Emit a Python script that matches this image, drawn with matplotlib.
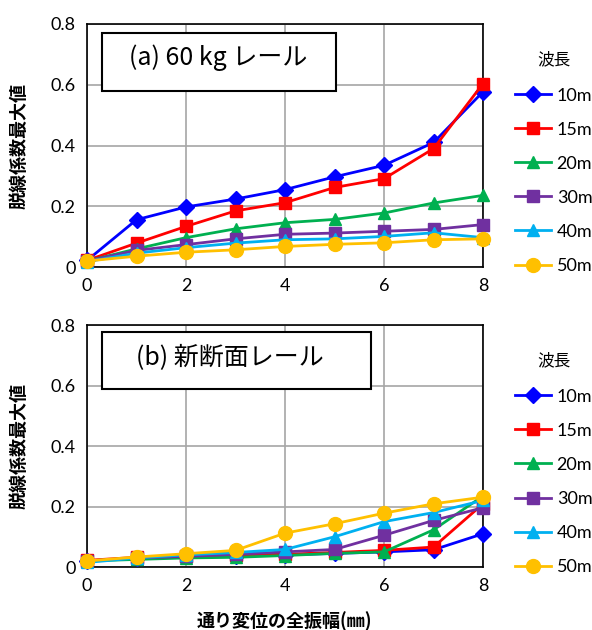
import numpy as np
import matplotlib.pyplot as plt
from matplotlib.patches import Rectangle

plt.rcParams['font.family'] = ['Lato', 'Noto Sans CJK JP', 'DejaVu Sans']
cjk = ['Noto Sans CJK JP', 'DejaVu Sans']

# Amplitude of alignment irregularity (mm)
x = [0, 1, 2, 3, 4, 5, 6, 7, 8]
wavelengths = ['10m', '15m', '20m', '30m', '40m', '50m']

# (a) 60 kg rail
rail60_10 = [0.022, 0.156, 0.198, 0.224, 0.255, 0.297, 0.335, 0.410, 0.577]
rail60_15 = [0.022, 0.079, 0.134, 0.185, 0.212, 0.262, 0.291, 0.390, 0.604]
rail60_20 = [0.020, 0.060, 0.097, 0.126, 0.146, 0.157, 0.178, 0.211, 0.236]
rail60_30 = [0.020, 0.055, 0.074, 0.093, 0.108, 0.112, 0.118, 0.124, 0.140]
rail60_40 = [0.018, 0.046, 0.064, 0.079, 0.090, 0.093, 0.101, 0.113, 0.097]
rail60_50 = [0.020, 0.036, 0.049, 0.057, 0.068, 0.075, 0.080, 0.090, 0.093]

# (b) new profile rail
new_10 = [0.020, 0.030, 0.035, 0.038, 0.040, 0.045, 0.050, 0.057, 0.110]
new_15 = [0.022, 0.032, 0.036, 0.040, 0.042, 0.048, 0.055, 0.066, 0.209]
new_20 = [0.020, 0.025, 0.030, 0.032, 0.038, 0.045, 0.050, 0.123, 0.235]
new_30 = [0.020, 0.030, 0.035, 0.042, 0.050, 0.058, 0.105, 0.154, 0.196]
new_40 = [0.015, 0.030, 0.040, 0.048, 0.058, 0.100, 0.150, 0.180, 0.220]
new_50 = [0.020, 0.033, 0.044, 0.055, 0.112, 0.143, 0.178, 0.209, 0.231]

colors = ['#0000FF', '#FF0000', '#00B050', '#7030A0', '#00B0F0', '#FFC000']
markers = ['D', 's', '^', 's', '^', 'o']
msizes = [8, 9, 9, 9, 9, 10]

panels = [
    ([rail60_10, rail60_15, rail60_20, rail60_30, rail60_40, rail60_50],
     '(a) 60 kg レール', [0.147, 0.576, 0.669, 0.386],
     (0.038, 0.724, 0.591, 0.239), (0.331, 0.86)),
    ([new_10, new_15, new_20, new_30, new_40, new_50],
     '(b) 新断面レール', [0.147, 0.100, 0.669, 0.384],
     (0.038, 0.736, 0.679, 0.235), (0.361, 0.865)),
]

fig = plt.figure(figsize=(5.92, 6.30), dpi=100)

for series, title, rect, box, tpos in panels:
    ax = fig.add_axes(rect)
    for y, lab, c, m, ms in zip(series, wavelengths, colors, markers, msizes):
        ax.plot(x, y, color=c, marker=m, markersize=ms, linewidth=2, label=lab,
                clip_on=False, zorder=3)
    ax.set_xlim(0, 8)
    ax.set_ylim(0, 0.8)
    ax.set_xticks([0, 2, 4, 6, 8])
    ax.set_yticks([0, 0.2, 0.4, 0.6, 0.8])
    ax.set_yticklabels(['0', '0.2', '0.4', '0.6', '0.8'])
    ax.tick_params(length=0, labelsize=13, pad=8)
    ax.grid(True, color='#A6A6A6', linewidth=1.2)
    ax.set_axisbelow(True)
    for s in ax.spines.values():
        s.set_linewidth(1.2)
    ax.set_ylabel('脱線係数最大値', fontsize=13, fontweight='bold', labelpad=16,
                  family=cjk)
    ax.add_patch(Rectangle(box[:2], box[2], box[3], transform=ax.transAxes,
                           fc='white', ec='black', lw=1.5, zorder=5))
    ax.text(tpos[0], tpos[1], title, transform=ax.transAxes, fontsize=18,
            va='center', ha='center', zorder=6, family=cjk)
    leg = ax.legend(loc='upper left', bbox_to_anchor=(1.04, 0.955), frameon=False,
                    title='波長', fontsize=13, title_fontsize=12,
                    handlelength=2.0, labelspacing=1.0, handletextpad=0.3)
    leg.get_title().set_family(cjk)
    leg._legend_box.sep = 14

fig.text(0.48, 0.014, '通り変位の全振幅(㎜)', fontsize=13, fontweight='bold',
         ha='center', va='center', family=cjk)

fig.savefig('out.png', dpi=100)
